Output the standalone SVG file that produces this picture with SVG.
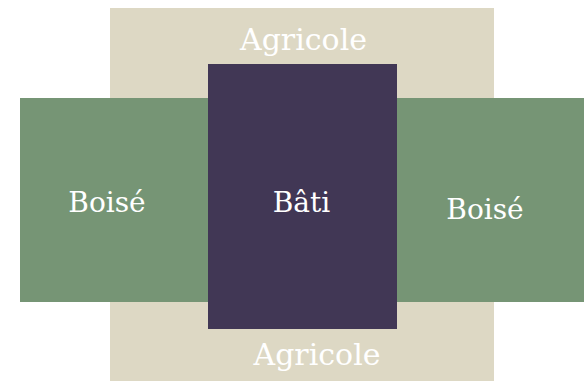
<svg xmlns="http://www.w3.org/2000/svg" width="584" height="381" viewBox="0 0 584 381">
<style>
.lbl{font-family:"DejaVu Serif","Liberation Serif",serif;font-size:28px;fill:#ffffff;text-anchor:middle}
.big{font-size:30px}
.agri{fill:#ddd8c4}
.bois{fill:#769575}
.bati{fill:#413755}
</style>
<rect width="584" height="381" fill="#ffffff"/>
<g id="agricole">
<rect class="agri" x="110" y="8" width="384" height="373"/>
<text class="lbl big" x="303.5" y="50">Agricole</text>
<text class="lbl big" x="317" y="365">Agricole</text>
</g>
<g id="boise-gauche">
<rect class="bois" x="20" y="98" width="190" height="204"/>
<text class="lbl" x="107" y="212">Boisé</text>
</g>
<g id="boise-droite">
<rect class="bois" x="395" y="98" width="189" height="204"/>
<text class="lbl" x="485" y="219">Boisé</text>
</g>
<g id="bati">
<rect class="bati" x="208" y="64" width="189" height="265"/>
<text class="lbl" x="301.5" y="212">Bâti</text>
</g>
<g id="connectors"/>
</svg>
